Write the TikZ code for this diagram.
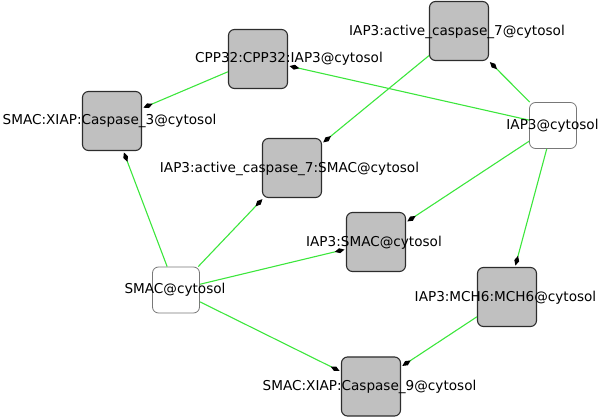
\documentclass[tikz,border=0pt]{standalone}
\usepackage{fontspec}
\setmainfont{DejaVu Sans}
\usetikzlibrary{arrows.meta}
\definecolor{edgegreen}{RGB}{60,230,60}
\definecolor{boxgray}{RGB}{192,192,192}
\definecolor{boxline}{RGB}{45,45,45}
\definecolor{freeline}{RGB}{120,120,120}
\tikzset{
  cplx/.style={draw=boxline, fill=boxgray, line width=1.1pt, rounded corners=6pt, minimum width=59pt, minimum height=59pt, inner sep=0pt},
  spec/.style={draw=freeline, fill=white, line width=0.8pt, rounded corners=6pt, minimum width=47pt, minimum height=46pt, inner sep=0pt},
  lbl/.style={inner sep=0pt, font=\fontsize{13.6}{16}\selectfont, text=black},
  edge/.style={draw=edgegreen, line width=1.1pt, shorten >=1.5pt, -{Diamond[length=10pt,width=5pt,fill=black,color=black]}}
}
\begin{document}
\begin{tikzpicture}[x=1pt,y=1pt]
\useasboundingbox (0,0) rectangle (600,418);
% boxes
\node[cplx] (cpp) at (258,359) {};
\node[cplx] (c3) at (112,297) {};
\node[cplx] (ac7s) at (292,250) {};
\node[cplx] (ac7) at (459,387) {};
\node[spec] (iap) at (553,292.5) {};
\node[cplx] (iaps) at (376,176) {};
\node[spec] (smac) at (176,128) {};
\node[cplx] (mch) at (507,121) {};
\node[cplx] (c9) at (371,31.5) {};
% edges
\draw[edge] (cpp) -- (c3);
\draw[edge] (iap) -- (cpp);
\draw[edge] (ac7) -- (ac7s);
\draw[edge] (iap) -- (ac7);
\draw[edge] (iap) -- (iaps);
\draw[edge] (iap) -- (mch);
\draw[edge] (smac) -- (c3);
\draw[edge] (smac) -- (ac7s);
\draw[edge] (smac) -- (iaps);
\draw[edge] (smac) -- (c9);
\draw[edge] (mch) -- (c9);
% labels
\node[lbl] (cppL) at (289,359) {CPP32:CPP32:IAP3@cytosol};
\node[lbl] (c3L) at (109.5,297) {SMAC:XIAP:Caspase\_3@cytosol};
\node[lbl] (ac7sL) at (289.5,249) {IAP3:active\_caspase\_7:SMAC@cytosol};
\node[lbl] (ac7L) at (457,386) {IAP3:active\_caspase\_7@cytosol};
\node[lbl] (iapL) at (552.5,292) {IAP3@cytosol};
\node[lbl] (iapsL) at (374,175) {IAP3:SMAC@cytosol};
\node[lbl] (smacL) at (175,128) {SMAC@cytosol};
\node[lbl] (mchL) at (505.5,120) {IAP3:MCH6:MCH6@cytosol};
\node[lbl] (c9L) at (369.5,31) {SMAC:XIAP:Caspase\_9@cytosol};
\end{tikzpicture}
\end{document}
